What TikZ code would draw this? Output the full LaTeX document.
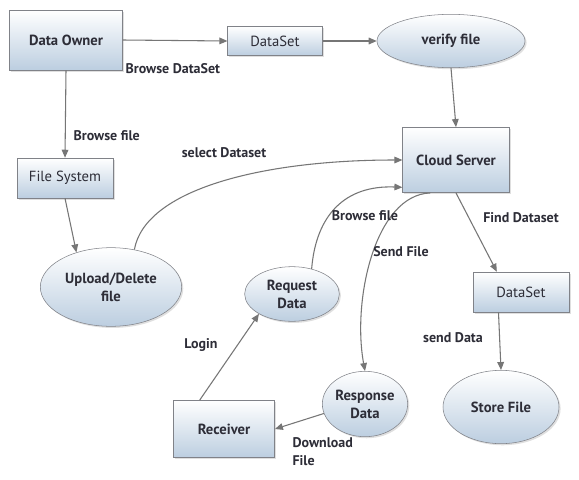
\documentclass[tikz,border=0pt]{standalone}
\usepackage{fontspec}
\setmainfont{PT Sans}
\usetikzlibrary{shapes.geometric,arrows.meta,shadows}
\definecolor{fillblue}{RGB}{188,206,224}
\definecolor{edgegray}{RGB}{128,130,136}
\definecolor{linegray}{RGB}{118,118,118}
\definecolor{textgray}{RGB}{45,45,55}

\begin{document}
\begin{tikzpicture}[
  x=0.75pt, y=-0.75pt,
  every node/.style={text=textgray, font=\fontsize{11}{13.5}\selectfont},
  box/.style={draw=edgegray, rectangle, top color=white, bottom color=fillblue,
    drop shadow={opacity=0.25, shadow xshift=1.2pt, shadow yshift=-1.2pt},
    inner sep=0pt, align=center},
  oval/.style={draw=edgegray, ellipse, top color=white, bottom color=fillblue,
    drop shadow={opacity=0.25, shadow xshift=1.2pt, shadow yshift=-1.2pt},
    inner sep=0pt, align=center, font=\fontsize{11}{13.5}\selectfont\bfseries},
  bold/.style={font=\fontsize{11}{13.5}\selectfont\bfseries},
  flow/.style={draw=linegray, line width=0.8pt, -{Triangle[length=6pt,width=5pt]}},
  lbl/.style={inner sep=1pt, font=\fontsize{10.5}{13.5}\selectfont\bfseries}
]
\useasboundingbox[fill=white] (0,0) rectangle (579,479);

\node[box, bold, minimum width=85pt, minimum height=45pt] (owner) at (66,40) {Data Owner};
\node[box, minimum width=71pt, minimum height=22pt] (dataset) at (275,41) {DataSet};
\node[oval, minimum width=111pt, minimum height=40pt] (verify) at (451,41) {verify file};
\node[box, bold, minimum width=80pt, minimum height=49pt] (cloud) at (456,160) {Cloud Server};
\node[box, minimum width=72pt, minimum height=30pt] (filesys) at (65,178) {File System};
\node[oval, minimum width=106pt, minimum height=59pt] (upload) at (111,287) {Upload/Delete\\file};
\node[oval, minimum width=71pt, minimum height=41pt] (request) at (292,294) {Request\\Data};
\node[oval, minimum width=64pt, minimum height=49pt] (response) at (365,404) {Response\\Data};
\node[box, bold, minimum width=76pt, minimum height=43pt] (receiver) at (224,429) {Receiver};
\node[box, minimum width=72pt, minimum height=30pt] (dataset2) at (521,292) {DataSet};
\node[oval, minimum width=87pt, minimum height=55pt] (store) at (501,407) {Store File};

\draw[flow] (owner.east) -- (dataset.west);
\draw[flow] (dataset.east) -- (verify.west);
\draw[flow] (verify.south) -- (cloud.north);
\draw[flow] (owner.south) -- (filesys.north);
\draw[flow] (filesys.south) -- (upload.135);
\draw[flow] (upload.58) .. controls (145,190) and (260,160) .. (cloud.west);
\draw[flow] (request.52) .. controls (316,215) and (345,185) .. (cloud.207);
\draw[flow] (cloud.232) .. controls (375,195) and (352,300) .. (response.north);
\draw[flow] (cloud.south) -- (dataset2.140);
\draw[flow] (dataset2.222) -- (store.north);
\draw[flow] (receiver.130) -- (request.211);
\draw[flow] (response.193) -- (receiver.east);

\node[lbl, anchor=west] (lbrowseds) at (124,69) {Browse DataSet};
\node[lbl, anchor=west] (lbrowsefile) at (72,136) {Browse file};
\node[lbl] (lselect) at (224,153) {select Dataset};
\node[lbl] (lbrowse) at (365,216) {Browse file};
\node[lbl] (lsend) at (401,252) {Send File};
\node[lbl] (lfind) at (521,218) {Find Dataset};
\node[lbl] (lsenddata) at (453,338) {send Data};
\node[lbl] (llogin) at (201,345) {Login};
\node[lbl, anchor=west, align=left] (ldownload) at (291,452) {Download\\File};

\end{tikzpicture}
\end{document}
